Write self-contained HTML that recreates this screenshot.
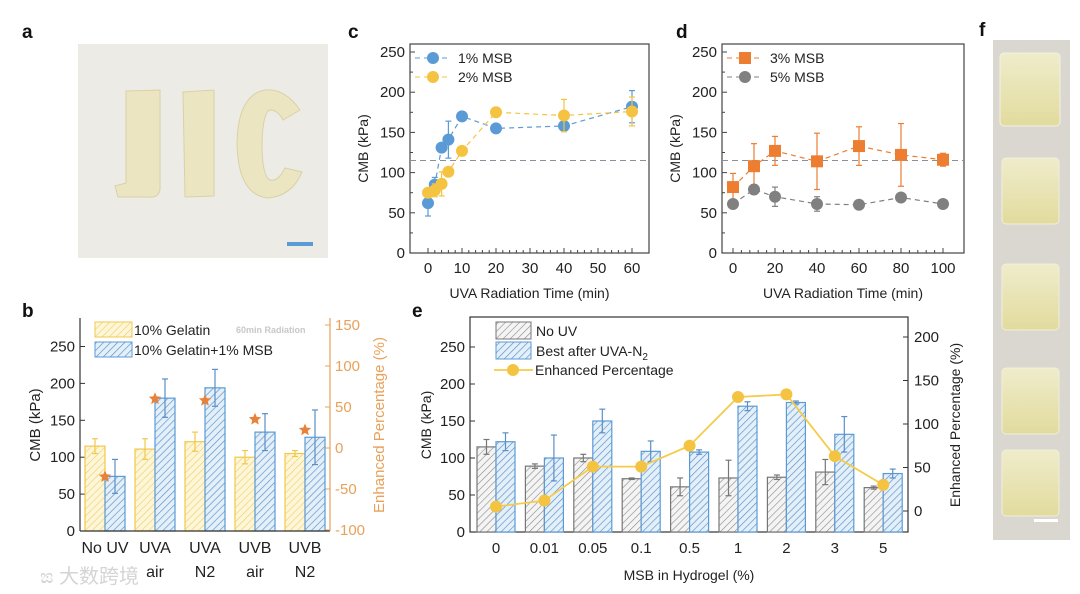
<!DOCTYPE html>
<html><head><meta charset="utf-8">
<style>
html,body{margin:0;padding:0;background:#fff;}
svg{display:block;font-family:"Liberation Sans","Noto Sans CJK SC",sans-serif;}
</style></head>
<body>
<svg id="fig" width="1080" height="594" viewBox="0 0 1080 594" xmlns="http://www.w3.org/2000/svg">
<defs>
<pattern id="hY" patternUnits="userSpaceOnUse" width="5" height="5" patternTransform="rotate(45)"><rect width="5" height="5" fill="#fdf6d8"/><line x1="0" y1="0" x2="0" y2="5" stroke="#f2d06a" stroke-width="1.3"/></pattern>
<pattern id="hB" patternUnits="userSpaceOnUse" width="5" height="5" patternTransform="rotate(45)"><rect width="5" height="5" fill="#e3eff9"/><line x1="0" y1="0" x2="0" y2="5" stroke="#5b8fc7" stroke-width="1.3"/></pattern>
<pattern id="hG" patternUnits="userSpaceOnUse" width="5" height="5" patternTransform="rotate(45)"><rect width="5" height="5" fill="#f4f4f4"/><line x1="0" y1="0" x2="0" y2="5" stroke="#8a8a8a" stroke-width="1.2"/></pattern>
<linearGradient id="cube" x1="0" y1="0" x2="0" y2="1"><stop offset="0" stop-color="#efeccb"/><stop offset="1" stop-color="#e2db9e"/></linearGradient>
</defs>

<!-- panel labels -->
<g font-weight="bold" font-size="19" fill="#111">
<text x="22" y="38">a</text>
<text x="22" y="317">b</text>
<text x="348" y="38">c</text>
<text x="676" y="38">d</text>
<text x="412" y="317">e</text>
<text x="979" y="36">f</text>
</g>

<!-- photo a -->
<g>
<rect x="78" y="44" width="250" height="214" fill="#ecebe6"/>
<path d="M126 91 L160 90 L160 190 Q158 198 150 197 L118 197 L115 186 L126 183 Z" fill="#ece5c2" stroke="#d9d1a6"/>
<path d="M183 92 L214 90 L214 196 L185 197 Z" fill="#ece5c2" stroke="#d9d1a6"/>
<path d="M300 110 Q285 88 265 90 Q238 95 237 143 Q238 195 268 198 Q292 196 302 172 L285 168 Q278 182 270 180 Q262 176 262 143 Q263 112 270 110 Q278 110 283 120 Z" fill="#ece5c2" stroke="#d9d1a6"/>
<rect x="287" y="242" width="26" height="4" fill="#5b9bd5"/>
</g>

<!-- photo f -->
<g>
<rect x="993" y="40" width="77" height="500" fill="#d9d7cf"/>
<rect x="1000" y="53" width="60" height="73" rx="4" fill="url(#cube)" stroke="#f4f2e4"/>
<rect x="1002" y="158" width="57" height="66" rx="4" fill="url(#cube)" stroke="#f1efd8"/>
<rect x="1002" y="264" width="57" height="66" rx="4" fill="url(#cube)" stroke="#f1efd8"/>
<rect x="1002" y="368" width="57" height="66" rx="4" fill="url(#cube)" stroke="#f1efd8"/>
<rect x="1002" y="450" width="57" height="66" rx="4" fill="url(#cube)" stroke="#f1efd8"/>
<rect x="1034" y="519" width="24" height="3" fill="#fff"/>
</g>

<text x="40" y="583" font-size="20" fill="#d4d4d4">ಙ 大数跨境</text>

<g id="pb"></g><g id="pc"></g><g id="pd"></g><g id="pe"></g>
</svg>

<script>
// ---------- data: panel b ----------
const bCats1 = ['No UV','UVA','UVA','UVB','UVB'];
const bCats2 = ['','air','N2','air','N2'];
const bGel = [115,111,121,100,105];
const bGelErr = [10,14,13,9,4];
const bMsb = [74,180,194,134,127];
const bMsbErr = [23,26,25,25,37];
const bEnh = [-35,60,58,35,22];
const bLeftTicks = [0,50,100,150,200,250];
const bRightTicks = [-100,-50,0,50,100,150];
// ---------- data: panel c ----------
const cTime = [0,2,4,6,10,20,40,60];
const c1 = [62,85,131,141,170,155,158,182];
const c1Err = [16,9,5,23,5,4,7,20];
const c2 = [75,78,86,101,127,175,171,176];
const c2Err = [4,8,15,4,4,4,20,18];
const cXTicks = [0,10,20,30,40,50,60];
const cYTicks = [0,50,100,150,200,250];
const refLine = 115;
// ---------- data: panel d ----------
const dTime = [0,10,20,40,60,80,100];
const d3 = [82,108,127,114,133,122,116];
const d3Err = [17,28,18,35,24,39,8];
const d5 = [61,79,70,61,60,69,61];
const d5Err = [3,6,12,9,2,4,3];
const dXTicks = [0,20,40,60,80,100];
// ---------- data: panel e ----------
const eCats = ['0','0.01','0.05','0.1','0.5','1','2','3','5'];
const eNoUV = [115,89,100,72,61,73,74,81,60];
const eNoUVErr = [10,3,5,1,12,24,3,17,2];
const eBest = [122,100,150,109,108,170,175,132,79];
const eBestErr = [12,31,16,14,3,6,2,24,6];
const eEnh = [5,12,51,51,75,131,134,63,30];
const eRightTicks = [0,50,100,150,200];

const NS = 'http://www.w3.org/2000/svg';
function mk(tag, attrs, parent){
  const e = document.createElementNS(NS, tag);
  for (const k in attrs) e.setAttribute(k, attrs[k]);
  parent.appendChild(e);
  return e;
}
function txt(str, attrs, parent){
  const t = mk('text', attrs, parent);
  t.textContent = str;
  return t;
}
function errBar(g, x, y1, y2, color, w){
  mk('line',{x1:x,y1:y1,x2:x,y2:y2,stroke:color,'stroke-width':1.2},g);
  mk('line',{x1:x-w,y1:y1,x2:x+w,y2:y1,stroke:color,'stroke-width':1.2},g);
  mk('line',{x1:x-w,y1:y2,x2:x+w,y2:y2,stroke:color,'stroke-width':1.2},g);
}
function star(cx, cy, r){
  let p=[];
  for(let i=0;i<10;i++){const a=-Math.PI/2+i*Math.PI/5;const rr=i%2?r*0.45:r;p.push((cx+rr*Math.cos(a)).toFixed(1)+','+(cy+rr*Math.sin(a)).toFixed(1));}
  return p.join(' ');
}

// ================= panel b =================
(function(){
  const g = document.getElementById('pb');
  const L=80,R=330,T=318,B=531;
  const xb = i => 105 + 50*i;
  const yb = v => B - v*0.738;
  const yb2 = p => 448 - p*0.82;
  for (const v of bLeftTicks){
    const y=yb(v);
    mk('line',{x1:L,y1:y,x2:L+5,y2:y,stroke:'#333'},g);
    const t = txt(String(v),{x:L-5,y:y+5,'font-size':15,'text-anchor':'end',fill:'#222'},g);
    
    
  }
  for (const v of bRightTicks){
    const y=yb2(v);
    mk('line',{x1:R-5,y1:y,x2:R,y2:y,stroke:'#e8a15a'},g);
    const t = txt(String(v),{x:R+5,y:y+5,'font-size':15,fill:'#e8a15a'},g);
    
    
  }
  for (let i=0;i<bGel.length;i++){
    const x=xb(i);
    const r1 = mk('rect',{x:x-20,y:yb(bGel[i]),width:20,height:B-yb(bGel[i]),fill:'url(#hY)',stroke:'#f2c84b','stroke-width':1.2},g);
    
    
    const r2 = mk('rect',{x:x,y:yb(bMsb[i]),width:20,height:B-yb(bMsb[i]),fill:'url(#hB)',stroke:'#5b9bd5','stroke-width':1.2},g);
    
    
    errBar(g,x-10,yb(bGel[i]+bGelErr[i]),yb(bGel[i]-bGelErr[i]),'#f2c84b',3);
    errBar(g,x+10,yb(bMsb[i]+bMsbErr[i]),yb(bMsb[i]-bMsbErr[i]),'#5b8fc7',3);
    const s = mk('polygon',{points:star(x,yb2(bEnh[i]),6.5),fill:'#e8823a'},g);
    
    
    const l1 = txt(bCats1[i],{x:x,y:553,'font-size':16,'text-anchor':'middle',fill:'#222'},g);
    
    
    if (bCats2[i]){
      const l2 = txt(bCats2[i],{x:x,y:577,'font-size':16,'text-anchor':'middle',fill:'#222'},g);
      
      
    }
  }
  mk('line',{x1:L,y1:T,x2:L,y2:B,stroke:'#333','stroke-width':1.2},g);
  mk('line',{x1:L,y1:B,x2:R,y2:B,stroke:'#333','stroke-width':1.2},g);
  mk('line',{x1:R,y1:T,x2:R,y2:B,stroke:'#e8a15a','stroke-width':1.2},g);
  const yt = txt('CMB (kPa)',{x:0,y:0,'font-size':15,'text-anchor':'middle',fill:'#222',transform:'translate(40,425) rotate(-90)'},g);
  
  
  const yt2 = txt('Enhanced Percentage (%)',{x:0,y:0,'font-size':15,'text-anchor':'middle',fill:'#e8a15a',transform:'translate(384,425) rotate(-90)'},g);
  
  
  const lg1 = mk('rect',{x:95,y:322,width:37,height:15,fill:'url(#hY)',stroke:'#f2c84b'},g);
  
  
  const lt1 = txt('10% Gelatin',{x:134,y:335,'font-size':14,fill:'#222'},g);
  
  
  const lg2 = mk('rect',{x:95,y:342,width:37,height:15,fill:'url(#hB)',stroke:'#5b9bd5'},g);
  
  
  const lt2 = txt('10% Gelatin+1% MSB',{x:134,y:355,'font-size':14,fill:'#222'},g);
  
  
  const note = txt('60min Radiation',{x:236,y:333,'font-size':9,'font-weight':'bold',fill:'#c8c8c8'},g);
  
  
})();

// ============ scatter panel helper ============
function scatterPanel(g, prefix, L, R, T, B, xf, yf, xTicks, series){
  mk('rect',{x:L,y:T,width:R-L,height:B-T,fill:'none',stroke:'#444','stroke-width':1.2},g);
  for (const v of cYTicks){
    const y=yf(v);
    mk('line',{x1:L,y1:y,x2:L+5,y2:y,stroke:'#444'},g);
    if (v<250) mk('line',{x1:L,y1:yf(v+25),x2:L+3,y2:yf(v+25),stroke:'#444'},g);
    const t = txt(String(v),{x:L-5,y:y+5,'font-size':15,'text-anchor':'end',fill:'#222'},g);
    
    
  }
  for (let k=0;k<xTicks.length;k++){
    const v=xTicks[k], x=xf(v);
    mk('line',{x1:x,y1:B,x2:x,y2:B-5,stroke:'#444'},g);
    const t = txt(String(v),{x:x,y:B+20,'font-size':15,'text-anchor':'middle',fill:'#222'},g);
    
    
    if (k<xTicks.length-1){
      const st=(xTicks[k+1]-v)/5;
      for(let m=1;m<5;m++){const xm=xf(v+st*m);mk('line',{x1:xm,y1:B,x2:xm,y2:B-3,stroke:'#444'},g);}
    }
  }
  const ref = mk('line',{x1:L,y1:yf(refLine),x2:R,y2:yf(refLine),stroke:'#8a8f99','stroke-dasharray':'6,4','stroke-width':1},g);
  
  
  series.forEach((s,si)=>{
    const pts = s.x.map((t,i)=>xf(t)+','+yf(s.y[i])).join(' ');
    const pl = mk('polyline',{points:pts,fill:'none',stroke:s.color,'stroke-dasharray':'5,4','stroke-width':1.2},g);
    
    
    s.x.forEach((t,i)=>{
      errBar(g,xf(t),yf(s.y[i]+s.e[i]),yf(s.y[i]-s.e[i]),s.color,3);
      let m;
      if (s.shape==='square') m = mk('rect',{x:xf(t)-6,y:yf(s.y[i])-6,width:12,height:12,fill:s.color},g);
      else m = mk('circle',{cx:xf(t),cy:yf(s.y[i]),r:6,fill:s.color},g);
      
      
    });
    const ly = T+14+si*19;
    mk('line',{x1:L+5,y1:ly,x2:L+40,y2:ly,stroke:s.color,'stroke-dasharray':'5,4'},g);
    if (s.shape==='square') mk('rect',{x:L+17,y:ly-6,width:12,height:12,fill:s.color},g);
    else mk('circle',{cx:L+23,cy:ly,r:6,fill:s.color},g);
    const lt = txt(s.label,{x:L+48,y:ly+5,'font-size':14,fill:'#222'},g);
    
    
  });
  const xt = txt('UVA Radiation Time (min)',{x:(L+R)/2,y:B+45,'font-size':14,'text-anchor':'middle',fill:'#222'},g);
  
  
  const yt = txt('CMB (kPa)',{x:0,y:0,'font-size':14,'text-anchor':'middle',fill:'#222',transform:'translate('+(L-42)+','+((T+B)/2)+') rotate(-90)'},g);
  
  
}
scatterPanel(document.getElementById('pc'),'c',410,649,44,253,t=>428+t*3.4,v=>253-v*0.804,cXTicks,[
  {key:'1pct',label:'1% MSB',x:cTime,y:c1,e:c1Err,color:'#5b9bd5',shape:'circle'},
  {key:'2pct',label:'2% MSB',x:cTime,y:c2,e:c2Err,color:'#f5c342',shape:'circle'}]);
scatterPanel(document.getElementById('pd'),'d',722,964,44,253,t=>733+t*2.1,v=>253-v*0.804,dXTicks,[
  {key:'3pct',label:'3% MSB',x:dTime,y:d3,e:d3Err,color:'#ed7d31',shape:'square'},
  {key:'5pct',label:'5% MSB',x:dTime,y:d5,e:d5Err,color:'#808080',shape:'circle'}]);

// ================= panel e =================
(function(){
  const g = document.getElementById('pe');
  const L=470,R=908,T=317,B=532;
  const xe = i => 496 + 48.4*i;
  const ye = v => B - v*0.74;
  const ye2 = p => 511 - p*0.87;
  mk('rect',{x:L,y:T,width:R-L,height:B-T,fill:'none',stroke:'#333','stroke-width':1.2},g);
  for (const v of cYTicks){
    const y=ye(v);
    mk('line',{x1:L,y1:y,x2:L+5,y2:y,stroke:'#333'},g);
    const t = txt(String(v),{x:L-5,y:y+5,'font-size':15,'text-anchor':'end',fill:'#222'},g);
    
    
  }
  for (const v of eRightTicks){
    const y=ye2(v);
    mk('line',{x1:R-5,y1:y,x2:R,y2:y,stroke:'#333'},g);
    const t = txt(String(v),{x:R+6,y:y+5,'font-size':15,fill:'#222'},g);
    
    
  }
  for (let i=0;i<eCats.length;i++){
    const x=xe(i);
    const r1 = mk('rect',{x:x-19,y:ye(eNoUV[i]),width:19,height:B-ye(eNoUV[i]),fill:'url(#hG)',stroke:'#777','stroke-width':1.2},g);
    
    
    const r2 = mk('rect',{x:x,y:ye(eBest[i]),width:19,height:B-ye(eBest[i]),fill:'url(#hB)',stroke:'#5b9bd5','stroke-width':1.2},g);
    
    
    errBar(g,x-9.5,ye(eNoUV[i]+eNoUVErr[i]),ye(eNoUV[i]-eNoUVErr[i]),'#777',3);
    errBar(g,x+9.5,ye(eBest[i]+eBestErr[i]),ye(eBest[i]-eBestErr[i]),'#5b8fc7',3);
    const l = txt(eCats[i],{x:x,y:553,'font-size':15,'text-anchor':'middle',fill:'#222'},g);
    
    
  }
  const pts = eEnh.map((p,i)=>xe(i)+','+ye2(p)).join(' ');
  const pl = mk('polyline',{points:pts,fill:'none',stroke:'#f5cc4a','stroke-width':1.8},g);
  
  
  eEnh.forEach((p,i)=>{
    const c = mk('circle',{cx:xe(i),cy:ye2(p),r:6,fill:'#f5c342'},g);
    
    
  });
  const s1 = mk('rect',{x:496,y:322,width:35,height:17,fill:'url(#hG)',stroke:'#777'},g);
  
  
  const t1 = txt('No UV',{x:536,y:336,'font-size':14,fill:'#222'},g);
  
  
  const s2 = mk('rect',{x:496,y:342,width:35,height:17,fill:'url(#hB)',stroke:'#5b9bd5'},g);
  
  
  const t2 = mk('text',{x:536,y:356,'font-size':14,fill:'#222'},g);
  t2.innerHTML = 'Best after UVA-N<tspan font-size="10" dy="4">2</tspan>';
  
  
  mk('line',{x1:494,y1:370,x2:533,y2:370,stroke:'#f5cc4a','stroke-width':1.8},g);
  mk('circle',{cx:513,cy:370,r:6,fill:'#f5c342'},g);
  const t3 = txt('Enhanced Percentage',{x:535,y:375,'font-size':14,fill:'#222'},g);
  
  
  const xt = txt('MSB in Hydrogel (%)',{x:689,y:580,'font-size':14,'text-anchor':'middle',fill:'#222'},g);
  
  
  const yt = txt('CMB (kPa)',{x:0,y:0,'font-size':14,'text-anchor':'middle',fill:'#222',transform:'translate(431,425) rotate(-90)'},g);
  
  
  const yt2 = txt('Enhanced Percentage (%)',{x:0,y:0,'font-size':14,'text-anchor':'middle',fill:'#222',transform:'translate(960,425) rotate(-90)'},g);
  
  
})();
</script>
</body></html>
